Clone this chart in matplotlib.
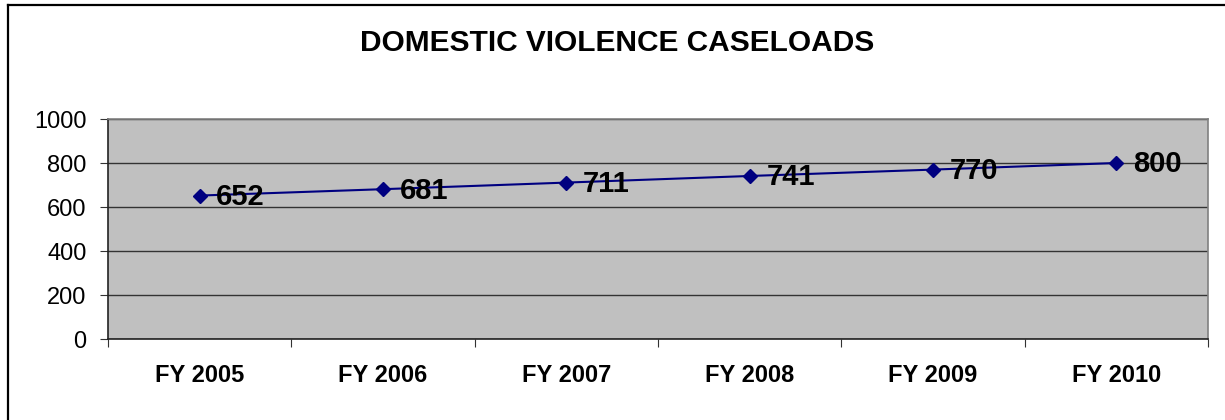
import matplotlib
matplotlib.use("Agg")
import matplotlib.pyplot as plt
from matplotlib.lines import Line2D

categories = ["FY 2005", "FY 2006", "FY 2007", "FY 2008", "FY 2009", "FY 2010"]
caseloads = [652, 681, 711, 741, 770, 800]
yticks = [0, 200, 400, 600, 800, 1000]
title = "DOMESTIC VIOLENCE CASELOADS"

plt.rcParams['font.family'] = ['Liberation Sans', 'DejaVu Sans']

W, H = 1225, 420
fig = plt.figure(figsize=(W / 100, H / 100), dpi=100)
fig.patch.set_facecolor('white')

# outer chart border (top and left visible)
fig.add_artist(Line2D([8 / W, 1.0], [1 - 5 / H, 1 - 5 / H], color='black', lw=1.6, transform=fig.transFigure))
fig.add_artist(Line2D([8 / W, 8 / W], [0, 1 - 5 / H], color='black', lw=1.6, transform=fig.transFigure))

left, right, top, bottom = 108, 1208, 119, 339
ax = fig.add_axes([left / W, 1 - bottom / H, (right - left) / W, (bottom - top) / H])
ax.set_facecolor('#C0C0C0')

x = list(range(len(categories)))
ax.plot(x, caseloads, color='#000080', lw=1.5, marker='D', markersize=7.5,
        markerfacecolor='#000080', markeredgecolor='#000080', zorder=3)
for xi, v in zip(x, caseloads):
    ax.annotate(str(v), (xi, v), xytext=(12, -1), textcoords='offset points',
                fontsize=21, fontweight='bold', va='center', ha='left', color='black', zorder=4)

ax.set_xlim(-0.5, len(categories) - 0.5)
ax.set_ylim(0, 1000)
ax.set_yticks(yticks)
ax.set_yticklabels([str(t) for t in yticks], fontsize=17)
ax.yaxis.grid(True, color='#333333', lw=1)
ax.set_axisbelow(True)

# category ticks at boundaries, labels at centers
ax.set_xticks([i - 0.5 for i in range(len(categories) + 1)])
ax.set_xticklabels([])
ax.set_xticks(x, minor=True)
ax.set_xticklabels(categories, minor=True, fontsize=17, fontweight='bold')
ax.tick_params(axis='x', which='minor', length=0, pad=18)
ax.tick_params(axis='x', which='major', length=6, direction='out', color='#333333')
ax.tick_params(axis='y', length=6, direction='out', color='#333333', pad=9.5)

for s in ['left', 'bottom']:
    ax.spines[s].set_color('#222222')
    ax.spines[s].set_linewidth(1.2)
for s in ['top', 'right']:
    ax.spines[s].set_color('#808080')
    ax.spines[s].set_linewidth(1.2)

fig.text(617 / W, 1 - 43 / H, title, fontsize=21.5, fontweight='bold', ha='center', va='center')

fig.savefig('out.png', dpi=100)
